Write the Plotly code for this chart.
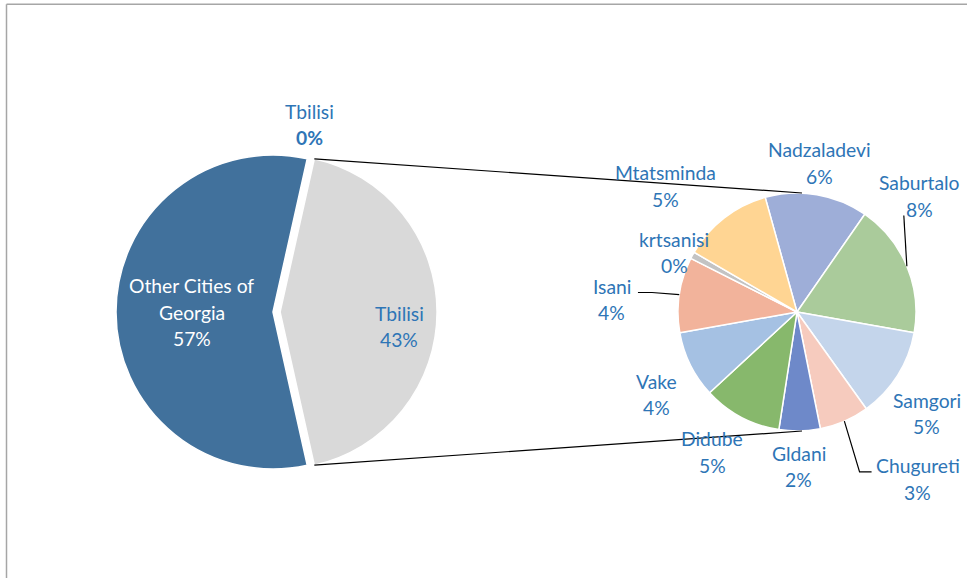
import math
import plotly.graph_objects as go

# ---------------- data ----------------
other_label = "Other Cities of Georgia"
other_value = 57.0
tbilisi_label = "Tbilisi"
zero_label = "Tbilisi"
zero_value = 0.0
district_names = ["Nadzaladevi", "Saburtalo", "Samgori", "Chugureti", "Gldani",
                  "Didube", "Vake", "Isani", "krtsanisi", "Mtatsminda"]
district_values = [6.0, 7.8, 5.3, 2.9, 2.4, 4.6, 3.9, 4.4, 0.4, 5.3]

# ---------------- styles ----------------
district_colors = ["#9EAED8", "#AACB9B", "#C4D5EB", "#F6CBBE", "#6E89C9",
                   "#87B86C", "#A5C1E3", "#F2B39B", "#C3C3C3", "#FFD593"]
left_colors = ["#D9D9D9", "#41719C"]
TXT = "#2E75B6"
FONT = "Lato"
FS = 19.3
LINE_GAP = 26.5

W, H = 967, 578


def fx(x):
    return x / W


def fy(y):
    return 1 - y / H


tbilisi_value = sum(district_values)
grand_total = other_value + tbilisi_value + zero_value


def pct(v):
    return f"{round(100 * v / grand_total):.0f}%"


# geometry (pixels)
LC = (273, 312)
LR = 157
PULL = 0.045
RC = (797, 312)
RR = 119
left_share = tbilisi_value / (tbilisi_value + other_value)
left_rotation = 90 - 180 * left_share
right_rotation = -15.5


def pt(center, radius, a_cw):
    a = math.radians(a_cw)
    return (center[0] + radius * math.sin(a), center[1] - radius * math.cos(a))


fig = go.Figure()

lh = LR * (1 + PULL)
fig.add_trace(go.Pie(
    labels=[tbilisi_label, other_label],
    values=[tbilisi_value, other_value],
    sort=False, direction="clockwise", rotation=left_rotation,
    pull=[PULL, 0],
    marker=dict(colors=left_colors, line=dict(color="white", width=1.5)),
    textinfo="none", showlegend=False,
    domain=dict(x=[fx(LC[0] - lh), fx(LC[0] + lh)], y=[fy(LC[1] + lh), fy(LC[1] - lh)]),
))

fig.add_trace(go.Pie(
    labels=district_names,
    values=district_values,
    sort=False, direction="clockwise", rotation=right_rotation,
    marker=dict(colors=district_colors, line=dict(color="white", width=1.5)),
    textinfo="none", showlegend=False,
    domain=dict(x=[fx(RC[0] - RR), fx(RC[0] + RR)], y=[fy(RC[1] + RR), fy(RC[1] - RR)]),
))

annotations = []


def add_label(x, y, lines, color, bolds=None):
    n = len(lines)
    for i, line in enumerate(lines):
        yy = y + (i - (n - 1) / 2) * LINE_GAP
        txt = f"<b>{line}</b>" if bolds and bolds[i] else line
        annotations.append(dict(
            x=fx(x), y=fy(yy), xref="paper", yref="paper", text=txt,
            showarrow=False, xanchor="center", yanchor="middle",
            font=dict(family=FONT, size=FS, color=color)))


# left pie labels
tb_mid = left_rotation + 180 * left_share
oth_mid = left_rotation + 360 * left_share + 180 * (1 - left_share)
pc = pt(LC, PULL * LR, tb_mid)
x, y = pt(pc, 0.76 * LR, tb_mid)
add_label(x, y + 14.5, [tbilisi_label, pct(tbilisi_value)], TXT)
x, y = pt(LC, 0.52 * LR, oth_mid)
add_label(x + 0.5, y, ["Other Cities of", "Georgia", pct(other_value)], "white")
x, y = pt(LC, 1.2 * LR, left_rotation)
add_label(x - 4.5, y - 3.5, [zero_label, pct(zero_value)], TXT, bolds=[False, True])

# right pie labels
nudges = {
    "Nadzaladevi": (-3, 3.5), "Saburtalo": (-20, -56.5), "Samgori": (-1, 19),
    "Chugureti": (59, 25), "Gldani": (-1.5, 0), "Didube": (-12, 3.5),
    "Vake": (-2, 14), "Isani": (-32, 10), "krtsanisi": (13.5, 14),
    "Mtatsminda": (-36.5, -3.5),
}
leaders = {
    "Saburtalo": [(-16, 19.5)],
    "Chugureti": [(-58, -7), (-46, -7)],
    "Isani": [(40, -7), (26, -7)],
}
shapes = []
cum = 0.0
for name, v in zip(district_names, district_values):
    mid = right_rotation + 360 * (cum + v / 2) / tbilisi_value
    cum += v
    ax, ay = pt(RC, 1.3 * RR, mid)
    dx, dy = nudges[name]
    lx, ly = ax + dx, ay + dy
    add_label(lx, ly, [name, pct(v)], TXT)
    if name in leaders:
        ex, ey = pt(RC, RR, mid)
        path = f"M {fx(ex)} {fy(ey)}"
        for ox, oy in leaders[name]:
            path += f" L {fx(lx + ox)} {fy(ly + oy)}"
        shapes.append(dict(type="path", xref="paper", yref="paper", path=path,
                           line=dict(color="black", width=1.2)))

# connector lines between pies
c_top = pt(pc, LR, left_rotation)
c_bot = pt(pc, LR, left_rotation + 360 * left_share)
r_top = (RC[0] + 5, RC[1] - RR)
r_bot = (RC[0] + 5, RC[1] + RR)
for a, b in [(c_top, r_top), (c_bot, r_bot)]:
    shapes.append(dict(type="line", xref="paper", yref="paper",
                       x0=fx(a[0]), y0=fy(a[1]), x1=fx(b[0]), y1=fy(b[1]),
                       line=dict(color="black", width=1.2)))

# chart border (top and left edges)
shapes.append(dict(type="line", xref="paper", yref="paper", x0=fx(6.5), y0=fy(4.3),
                   x1=1, y1=fy(4.3), line=dict(color="#A6A6A6", width=1.5)))
shapes.append(dict(type="line", xref="paper", yref="paper", x0=fx(6.5), y0=fy(4.3),
                   x1=fx(6.5), y1=0, line=dict(color="#A6A6A6", width=1.5)))

fig.update_layout(
    width=W, height=H, margin=dict(l=0, r=0, t=0, b=0),
    paper_bgcolor="white", plot_bgcolor="white",
    annotations=annotations, shapes=shapes, showlegend=False,
    font=dict(family=FONT, size=FS, color=TXT),
)

fig.write_html(
    "out.html",
    config={"displayModeBar": False},
    post_script="document.body.style.margin='0';document.body.style.overflow='hidden';",
)
